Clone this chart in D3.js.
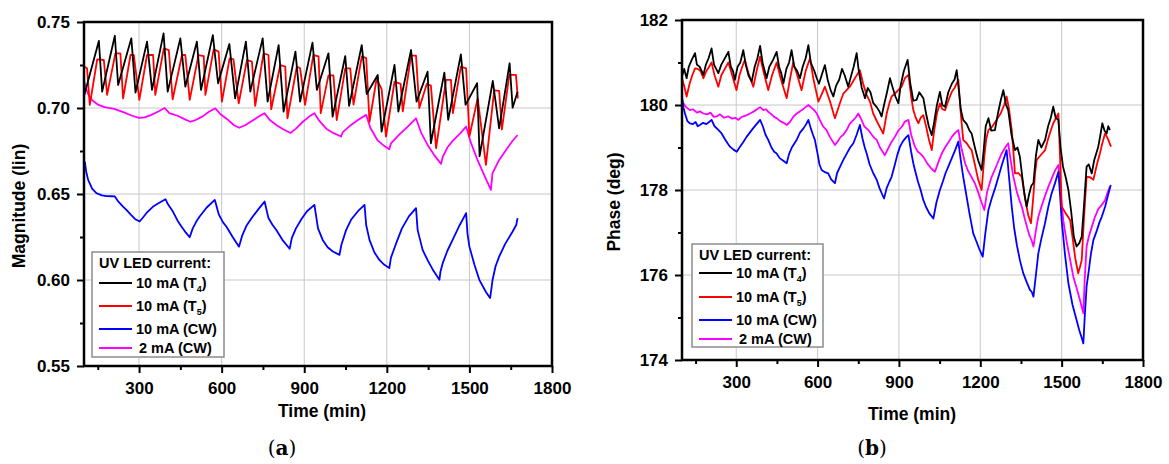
<!DOCTYPE html>
<html>
<head>
<meta charset="utf-8">
<script src="https://cdn.jsdelivr.net/npm/d3@7/dist/d3.min.js"></script>
<style>
  body { margin: 0; background: #fff; }
  svg text { font-family: "Liberation Sans", Arial, sans-serif; font-weight: bold; }
</style>
</head>
<body>
<svg id="chart" width="1169" height="464"></svg>
<script>
// ---- data: [time (min), value] ----
const timeTicks = [300, 600, 900, 1200, 1500, 1800];
const timeMinor = [150, 450, 750, 1050, 1350, 1650];
const magTicks = [0.55, 0.60, 0.65, 0.70, 0.75];
const magMinor = [0.575, 0.625, 0.675, 0.725];
const phaseTicks = [174, 176, 178, 180, 182];
const phaseMinor = [175, 177, 179, 181];

const legendLabels = ["10 mA (T4)", "10 mA (T5)", "10 mA (CW)", "2 mA (CW)"];
const seriesColors = ["#000000", "#ff0000", "#0000ff", "#ff00ff"];

// (a) magnitude
const magT4 = [[100,0.707],[154,0.739],[166,0.7095],[212,0.742],[224,0.7134],[272,0.7405],[287,0.709],[329,0.7386],[347,0.7105],[389,0.7434],[404,0.7095],[450,0.7405],[468,0.7124],[510,0.7386],[525,0.7105],[568,0.7424],[587,0.7144],[628,0.7372],[649,0.7056],[688,0.7386],[704,0.7095],[749,0.7405],[767,0.7037],[807,0.7366],[825,0.6979],[868,0.7328],[885,0.7037],[930,0.738],[946,0.7105],[988,0.7318],[1003,0.695],[1049,0.7302],[1063,0.7012],[1109,0.7366],[1127,0.7081],[1167,0.7192],[1181,0.6863],[1228,0.725],[1242,0.6979],[1288,0.7337],[1308,0.7037],[1348,0.7211],[1360,0.6795],[1409,0.7206],[1423,0.6931],[1469,0.7312],[1486,0.7018],[1528,0.7144],[1537,0.672],[1585,0.7157],[1608,0.6882],[1646,0.726],[1657,0.7002],[1675,0.7095]];

const magT5 = [[100,0.7241],[111,0.7231],[121,0.7018],[148,0.7283],[172,0.7279],[184,0.7076],[214,0.7318],[232,0.7318],[242,0.7056],[269,0.7308],[281,0.7308],[301,0.7047],[329,0.7308],[351,0.7308],[359,0.7076],[390,0.7347],[408,0.7337],[422,0.7051],[456,0.7308],[468,0.7308],[484,0.7047],[516,0.7308],[535,0.7302],[541,0.7076],[571,0.7341],[589,0.7328],[601,0.7037],[629,0.7289],[643,0.7283],[662,0.7027],[692,0.7279],[710,0.727],[722,0.7012],[752,0.7318],[770,0.7308],[780,0.6993],[813,0.725],[831,0.7241],[839,0.694],[873,0.7241],[885,0.7231],[903,0.7018],[933,0.7308],[952,0.730],[960,0.697],[988,0.719],[1006,0.719],[1018,0.693],[1049,0.723],[1067,0.723],[1079,0.702],[1109,0.730],[1125,0.729],[1137,0.692],[1163,0.717],[1181,0.711],[1197,0.6834],[1228,0.7153],[1250,0.714],[1258,0.698],[1288,0.7305],[1306,0.7305],[1318,0.700],[1345,0.714],[1360,0.713],[1379,0.6766],[1415,0.7163],[1433,0.7163],[1440,0.697],[1469,0.7241],[1488,0.723],[1500,0.6834],[1530,0.7057],[1560,0.6669],[1590,0.7103],[1608,0.710],[1618,0.6875],[1645,0.7193],[1669,0.7193],[1676,0.7055]];

const magCW10 = [[103,0.6688],[108,0.663],[115,0.6582],[130,0.653],[145,0.6505],[165,0.6492],[182,0.6488],[200,0.6487],[212,0.6486],[225,0.6455],[240,0.643],[254,0.6408],[270,0.638],[285,0.6355],[302,0.634],[315,0.6365],[330,0.6395],[351,0.6427],[375,0.645],[396,0.647],[405,0.644],[423,0.6398],[440,0.6345],[454,0.6311],[470,0.6275],[484,0.6249],[495,0.630],[510,0.6345],[520,0.6369],[545,0.642],[575,0.6466],[590,0.638],[605,0.6335],[617,0.6311],[640,0.625],[663,0.6194],[675,0.626],[690,0.6315],[713,0.6369],[735,0.6415],[756,0.6456],[770,0.636],[785,0.632],[798,0.6292],[820,0.6235],[847,0.6182],[855,0.6245],[870,0.630],[890,0.6355],[910,0.640],[937,0.6437],[950,0.630],[967,0.6233],[985,0.619],[1004,0.6166],[1028,0.6146],[1035,0.6205],[1052,0.629],[1070,0.635],[1095,0.640],[1119,0.6437],[1125,0.632],[1137,0.6233],[1155,0.616],[1173,0.6117],[1190,0.609],[1209,0.6069],[1215,0.613],[1234,0.6214],[1255,0.630],[1280,0.637],[1306,0.6418],[1312,0.629],[1330,0.6175],[1350,0.611],[1367,0.606],[1391,0.6001],[1395,0.605],[1403,0.6098],[1420,0.617],[1439,0.6233],[1465,0.632],[1488,0.6389],[1493,0.627],[1500,0.6194],[1518,0.609],[1536,0.6001],[1560,0.593],[1575,0.5895],[1580,0.595],[1584,0.600],[1595,0.608],[1608,0.6136],[1630,0.621],[1657,0.6282],[1670,0.632],[1675,0.636]];

const magCW2 = [[100,0.716],[106,0.712],[115,0.708],[130,0.7045],[150,0.702],[175,0.7005],[210,0.6995],[245,0.6975],[275,0.6955],[300,0.6942],[320,0.6945],[345,0.696],[370,0.698],[393,0.700],[410,0.697],[440,0.6955],[465,0.6935],[486,0.692],[505,0.693],[530,0.695],[555,0.698],[577,0.6998],[595,0.6965],[620,0.6935],[645,0.690],[664,0.6885],[685,0.690],[710,0.6925],[735,0.695],[755,0.697],[775,0.693],[800,0.690],[825,0.6875],[850,0.6855],[870,0.688],[895,0.692],[918,0.695],[937,0.697],[955,0.6925],[980,0.688],[1005,0.6855],[1034,0.6834],[1040,0.686],[1065,0.6895],[1095,0.693],[1125,0.696],[1140,0.6885],[1165,0.6815],[1190,0.678],[1209,0.676],[1215,0.6795],[1245,0.6845],[1275,0.689],[1306,0.694],[1325,0.6855],[1350,0.678],[1375,0.672],[1397,0.6675],[1403,0.6715],[1420,0.677],[1440,0.681],[1465,0.685],[1488,0.6892],[1505,0.680],[1530,0.6695],[1555,0.6605],[1578,0.6524],[1584,0.6621],[1608,0.6698],[1635,0.676],[1655,0.6805],[1675,0.6843]];

// (b) phase
const phT4 = [[100,180.67],[108,180.85],[117,180.63],[125,180.9],[135,181.05],[148,181.22],[155,180.95],[165,180.9],[179,180.71],[188,180.95],[198,181.1],[209,181.33],[218,180.95],[226,180.85],[234,180.75],[245,180.95],[258,181.1],[271,181.25],[280,180.9],[288,180.8],[295,180.59],[305,180.9],[315,181.0],[326,181.29],[335,180.95],[345,180.7],[357,180.55],[368,180.9],[378,181.1],[388,181.39],[397,181.0],[405,180.8],[412,180.63],[422,180.9],[435,181.05],[449,181.25],[458,180.9],[466,180.75],[474,180.51],[485,180.85],[495,181.0],[504,181.29],[514,180.9],[525,180.8],[535,180.63],[545,180.9],[556,181.1],[566,181.41],[575,181.0],[588,180.8],[597,180.63],[605,180.5],[615,180.7],[627,180.94],[637,180.6],[648,180.35],[658,180.2],[668,180.45],[680,180.6],[690,180.85],[700,180.7],[713,180.43],[722,180.65],[733,180.9],[744,181.22],[752,180.8],[763,180.4],[775,180.16],[785,180.4],[795,180.3],[805,180.05],[818,179.95],[828,179.85],[836,179.73],[845,180.0],[856,180.3],[867,180.63],[875,180.45],[887,180.2],[898,180.04],[906,180.45],[918,180.8],[932,181.06],[942,180.5],[953,180.1],[965,180.12],[975,180.3],[990,180.16],[1000,179.8],[1010,179.5],[1021,179.29],[1030,179.6],[1040,180.0],[1051,180.31],[1060,180.0],[1070,179.96],[1082,180.3],[1095,180.5],[1105,180.6],[1113,180.82],[1120,180.4],[1128,179.9],[1137,179.65],[1150,179.55],[1160,179.4],[1168,179.33],[1180,179.0],[1192,178.7],[1205,178.47],[1212,178.9],[1220,179.5],[1230,179.69],[1240,179.4],[1254,179.41],[1265,179.8],[1275,180.1],[1285,180.35],[1295,180.0],[1303,179.88],[1315,179.3],[1328,178.94],[1337,179.0],[1346,178.78],[1355,178.3],[1363,177.9],[1371,177.61],[1380,177.9],[1388,178.1],[1396,178.16],[1405,178.8],[1414,179.18],[1425,179.0],[1439,179.18],[1450,179.5],[1460,179.7],[1469,179.96],[1478,179.7],[1488,179.65],[1496,179.0],[1505,178.55],[1515,178.3],[1525,178.0],[1535,177.5],[1545,176.9],[1555,176.67],[1565,176.75],[1574,176.9],[1582,177.6],[1592,178.55],[1600,178.6],[1611,178.39],[1620,178.7],[1635,179.02],[1643,179.3],[1650,179.57],[1658,179.4],[1666,179.33],[1672,179.5],[1678,179.41]];

const phT5 = [[100,180.63],[108,180.45],[117,180.2],[128,180.5],[138,180.7],[148,180.86],[158,180.85],[168,180.8],[179,180.63],[190,180.8],[200,180.9],[209,181.0],[220,180.7],[234,180.43],[245,180.7],[258,180.85],[271,181.0],[285,180.7],[301,180.35],[312,180.7],[322,180.9],[332,181.06],[345,180.75],[363,180.43],[375,180.8],[388,181.14],[400,180.8],[418,180.35],[432,180.7],[449,181.0],[465,180.6],[486,180.16],[498,180.6],[510,181.0],[525,180.7],[541,180.35],[556,180.8],[572,181.1],[585,180.6],[603,180.08],[615,180.25],[627,180.43],[645,180.1],[664,179.69],[680,180.0],[695,180.27],[707,180.35],[719,180.43],[735,180.6],[756,180.82],[768,180.5],[780,180.25],[793,180.08],[805,179.8],[820,179.6],[832,179.45],[842,179.33],[855,179.8],[865,180.05],[873,180.2],[890,180.3],[910,180.43],[922,180.63],[935,180.71],[945,180.2],[953,179.88],[962,179.7],[972,179.57],[980,179.7],[990,179.76],[1000,179.5],[1010,179.2],[1021,178.94],[1030,179.4],[1040,179.8],[1051,180.04],[1060,179.9],[1070,179.88],[1082,180.1],[1095,180.31],[1105,180.4],[1119,180.59],[1128,179.8],[1137,179.18],[1150,179.1],[1160,179.0],[1168,178.94],[1180,178.6],[1192,178.25],[1205,178.0],[1215,178.8],[1222,179.2],[1230,179.41],[1245,179.5],[1260,179.65],[1275,179.8],[1288,180.0],[1297,180.2],[1306,179.9],[1316,179.41],[1328,178.39],[1340,178.4],[1353,178.31],[1365,177.8],[1377,177.4],[1387,177.22],[1395,177.8],[1402,178.4],[1408,178.71],[1420,178.8],[1439,178.94],[1450,179.2],[1460,179.4],[1469,179.57],[1480,179.7],[1488,179.8],[1494,178.8],[1500,177.61],[1515,177.45],[1531,177.3],[1540,176.9],[1550,176.4],[1561,176.04],[1568,176.2],[1574,176.35],[1582,177.3],[1592,178.31],[1605,178.3],[1617,178.24],[1630,178.6],[1641,178.86],[1650,179.1],[1660,179.33],[1667,179.25],[1672,179.18],[1682,179.02]];

const phCW10 = [[100,180.2],[105,179.95],[111,179.8],[120,179.62],[129,179.57],[140,179.55],[150,179.6],[158,179.5],[166,179.53],[178,179.58],[190,179.55],[200,179.6],[209,179.65],[220,179.5],[233,179.42],[246,179.33],[258,179.2],[268,179.1],[277,179.02],[290,178.95],[302,178.9],[312,179.0],[325,179.12],[338,179.25],[350,179.35],[362,179.45],[375,179.55],[388,179.65],[398,179.5],[408,179.3],[418,179.18],[430,179.0],[440,178.9],[449,178.86],[460,178.75],[475,178.68],[486,178.63],[495,178.85],[505,179.0],[515,179.1],[523,179.18],[535,179.35],[548,179.45],[558,179.55],[566,179.65],[575,179.45],[583,179.3],[590,179.18],[600,178.85],[607,178.6],[615,178.47],[627,178.42],[639,178.39],[650,178.25],[658,178.2],[664,178.16],[672,178.4],[683,178.55],[695,178.71],[707,178.85],[720,179.0],[732,179.1],[744,179.3],[756,179.53],[766,179.2],[774,179.0],[781,178.86],[792,178.6],[805,178.4],[818,178.24],[828,178.05],[838,177.9],[845,177.8],[855,178.05],[865,178.2],[873,178.31],[885,178.6],[895,178.85],[904,179.02],[915,179.15],[928,179.25],[935,179.29],[945,178.9],[953,178.63],[959,178.47],[970,178.2],[980,178.0],[990,177.76],[1000,177.6],[1012,177.45],[1027,177.33],[1038,177.7],[1051,178.0],[1062,178.2],[1072,178.4],[1082,178.55],[1095,178.75],[1108,178.95],[1119,179.14],[1128,178.7],[1137,178.31],[1148,177.9],[1160,177.45],[1174,176.98],[1185,176.8],[1197,176.6],[1209,176.43],[1218,176.95],[1230,177.53],[1242,177.8],[1255,178.05],[1267,178.31],[1280,178.6],[1290,178.8],[1297,178.94],[1306,178.3],[1316,177.61],[1325,177.1],[1335,176.7],[1346,176.35],[1358,176.05],[1370,175.85],[1383,175.65],[1390,175.6],[1396,175.49],[1405,176.0],[1414,176.51],[1425,176.85],[1438,177.2],[1451,177.61],[1462,177.9],[1475,178.15],[1488,178.43],[1494,177.9],[1500,177.29],[1512,176.5],[1525,175.8],[1540,175.3],[1555,174.94],[1565,174.7],[1575,174.5],[1580,174.39],[1585,175.0],[1592,175.73],[1600,176.1],[1608,176.5],[1617,176.82],[1630,177.05],[1640,177.25],[1648,177.37],[1660,177.6],[1670,177.85],[1681,178.12]];

const phCW2 = [[100,180.12],[105,180.04],[115,179.95],[129,179.88],[140,179.9],[155,179.82],[166,179.85],[179,179.8],[192,179.78],[205,179.82],[217,179.72],[228,179.73],[240,179.78],[255,179.7],[271,179.73],[285,179.68],[296,179.7],[308,179.65],[320,179.72],[335,179.75],[351,179.8],[365,179.85],[377,179.9],[388,179.95],[400,179.88],[410,179.9],[418,179.84],[430,179.78],[440,179.72],[449,179.69],[462,179.62],[475,179.58],[486,179.53],[498,179.6],[510,179.72],[523,179.8],[535,179.85],[550,179.92],[566,180.0],[575,179.95],[587,179.88],[597,179.8],[608,179.65],[620,179.5],[633,179.41],[645,179.25],[655,179.15],[664,179.06],[675,179.15],[685,179.25],[695,179.3],[707,179.41],[718,179.55],[728,179.62],[740,179.7],[750,179.8],[760,179.68],[772,179.5],[787,179.41],[800,179.3],[810,179.22],[818,179.18],[830,179.0],[840,178.9],[848,178.82],[858,178.95],[870,179.1],[885,179.25],[898,179.4],[912,179.5],[922,179.61],[935,179.65],[945,179.3],[959,179.02],[970,178.9],[980,178.85],[990,178.78],[1005,178.62],[1020,178.5],[1033,178.43],[1045,178.65],[1058,178.86],[1070,179.0],[1082,179.12],[1095,179.25],[1108,179.35],[1119,179.41],[1130,179.0],[1144,178.63],[1155,178.45],[1168,178.3],[1180,178.16],[1192,177.95],[1205,177.7],[1215,177.53],[1225,177.95],[1234,178.15],[1242,178.31],[1255,178.5],[1268,178.7],[1279,178.86],[1292,179.0],[1303,179.1],[1312,178.7],[1322,178.31],[1335,177.95],[1345,177.75],[1353,177.61],[1365,177.3],[1380,176.95],[1390,176.8],[1396,176.67],[1405,177.05],[1414,177.37],[1425,177.6],[1438,177.85],[1451,178.08],[1462,178.25],[1475,178.45],[1488,178.59],[1495,178.0],[1506,177.29],[1518,176.8],[1530,176.4],[1543,175.96],[1555,175.7],[1568,175.4],[1580,175.1],[1585,175.9],[1592,176.67],[1600,176.9],[1612,177.15],[1623,177.37],[1635,177.55],[1648,177.65],[1660,177.76],[1670,177.95],[1678,178.08]];

const svg = d3.select("#chart");

// Draw one panel with frame, grid, ticks, lines and legend
function drawPanel(cfg) {
  const x = d3.scaleLinear().domain([100, 1800]).range([cfg.left, cfg.right]);
  const y = d3.scaleLinear().domain(cfg.yDomain).range([cfg.bottom, cfg.top]);
  const g = svg.append("g");

  // grid lines
  g.selectAll(".gx").data(timeTicks.slice(0, -1)).enter().append("line")
    .attr("x1", d => x(d)).attr("x2", d => x(d))
    .attr("y1", cfg.top).attr("y2", cfg.bottom)
    .attr("stroke", "#c8c8c8").attr("stroke-width", 1);
  g.selectAll(".gy").data(cfg.yTicks.slice(1, -1)).enter().append("line")
    .attr("x1", cfg.left).attr("x2", cfg.right)
    .attr("y1", d => y(d)).attr("y2", d => y(d))
    .attr("stroke", "#c8c8c8").attr("stroke-width", 1);

  // data lines
  const clipId = "clip" + cfg.name;
  svg.append("clipPath").attr("id", clipId).append("rect")
    .attr("x", cfg.left).attr("y", cfg.top)
    .attr("width", cfg.right - cfg.left).attr("height", cfg.bottom - cfg.top);
  const line = d3.line().x(d => x(d[0])).y(d => y(d[1]));
  const lines = g.append("g").attr("clip-path", `url(#${clipId})`);
  // draw order: magenta, blue, red, black on top
  [3, 2, 1, 0].forEach(i => {
    lines.append("path")
      .attr("d", line(cfg.series[i]))
      .attr("fill", "none")
      .attr("stroke", seriesColors[i])
      .attr("stroke-width", 1.8)
      .attr("stroke-linejoin", "round");
  });

  // axes
  g.append("g").attr("transform", `translate(0,${cfg.bottom})`)
    .call(d3.axisBottom(x).tickValues(timeTicks).tickSize(7).tickSizeOuter(0).tickPadding(9)
      .tickFormat(d3.format("d")));
  g.append("g").attr("transform", `translate(0,${cfg.bottom})`)
    .call(d3.axisBottom(x).tickValues(timeMinor).tickSize(4).tickSizeOuter(0).tickFormat(""));
  g.append("g").attr("transform", `translate(${cfg.left},0)`)
    .call(d3.axisLeft(y).tickValues(cfg.yTicks).tickSize(7).tickSizeOuter(0).tickPadding(7)
      .tickFormat(cfg.yFormat));
  g.append("g").attr("transform", `translate(${cfg.left},0)`)
    .call(d3.axisLeft(y).tickValues(cfg.yMinor).tickSize(4).tickSizeOuter(0).tickFormat(""));
  g.selectAll(".domain").remove();
  g.selectAll(".tick line").attr("stroke", "#000").attr("stroke-width", 2);
  g.selectAll(".tick text").attr("fill", "#000")
    .style("font-size", "17px").style("font-weight", "bold")
    .style("font-family", "'Liberation Sans', Arial, sans-serif");

  // frame
  g.append("rect")
    .attr("x", cfg.left).attr("y", cfg.top)
    .attr("width", cfg.right - cfg.left).attr("height", cfg.bottom - cfg.top)
    .attr("fill", "none").attr("stroke", "#000").attr("stroke-width", 2.5);

  // axis titles
  g.append("text")
    .attr("x", cfg.xTitleX).attr("y", cfg.xTitleY)
    .attr("text-anchor", "middle").style("font-size", "17.5px")
    .text("Time (min)");
  g.append("text")
    .attr("transform", `translate(${cfg.yTitleX},${cfg.yTitleY}) rotate(-90)`)
    .attr("text-anchor", "middle").style("font-size", "17.5px")
    .text(cfg.yTitle);

  // panel letter, e.g. (a)
  const lab = g.append("text")
    .attr("x", cfg.letterX).attr("y", 455)
    .attr("text-anchor", "middle")
    .style("font-family", "'DejaVu Serif', 'Liberation Serif', serif")
    .style("font-weight", "normal").style("font-size", "20px");
  lab.append("tspan").text("(");
  lab.append("tspan").style("font-weight", "bold").text(cfg.letter);
  lab.append("tspan").text(")");

  // legend
  const lg = g.append("g").attr("transform", `translate(${cfg.legX},${cfg.legY})`);
  lg.append("rect").attr("width", cfg.legW).attr("height", cfg.legH)
    .attr("fill", "#fff").attr("stroke", "#8c8c8c").attr("stroke-width", 1.5);
  lg.append("text").attr("x", 7).attr("y", 16).style("font-size", "14.5px")
    .text("UV LED current:");
  legendLabels.forEach((lbl, i) => {
    const ly = cfg.legRows[i];
    lg.append("line").attr("x1", 7).attr("x2", cfg.legLineEnd)
      .attr("y1", ly).attr("y2", ly)
      .attr("stroke", seriesColors[i]).attr("stroke-width", 1.8);
    const t = lg.append("text").attr("x", cfg.legLineEnd + 4 + (i === 3 ? 3 : 0))
      .attr("y", ly + 5).style("font-size", "14.5px");
    const m = lbl.match(/^(.*\(T)(\d)(\))$/);
    if (m) {
      t.append("tspan").text(m[1]);
      t.append("tspan").attr("dy", 4).style("font-size", "9px").text(m[2]);
      t.append("tspan").attr("dy", -4).text(m[3]);
    } else {
      t.text(lbl);
    }
  });
}

drawPanel({
  name: "a", left: 84, right: 552, top: 22, bottom: 366,
  yDomain: [0.55, 0.75], yTicks: magTicks, yMinor: magMinor,
  yFormat: d3.format(".2f"),
  series: [magT4, magT5, magCW10, magCW2],
  xTitleX: 322, xTitleY: 417, yTitle: "Magnitude (lin)", yTitleX: 25, yTitleY: 206,
  letter: "a", letterX: 282,
  legX: 92, legY: 252, legW: 132, legH: 105, legLineEnd: 40,
  legRows: [31, 54, 77, 96]
});

drawPanel({
  name: "b", left: 682, right: 1143, top: 20, bottom: 360,
  yDomain: [174, 182], yTicks: phaseTicks, yMinor: phaseMinor,
  yFormat: d3.format("d"),
  series: [phT4, phT5, phCW10, phCW2],
  xTitleX: 912, xTitleY: 420, yTitle: "Phase (deg)", yTitleX: 620, yTitleY: 202,
  letter: "b", letterX: 872,
  legX: 692, legY: 244, legW: 131, legH: 103, legLineEnd: 40,
  legRows: [29, 53, 76, 95]
});
</script>
</body>
</html>
